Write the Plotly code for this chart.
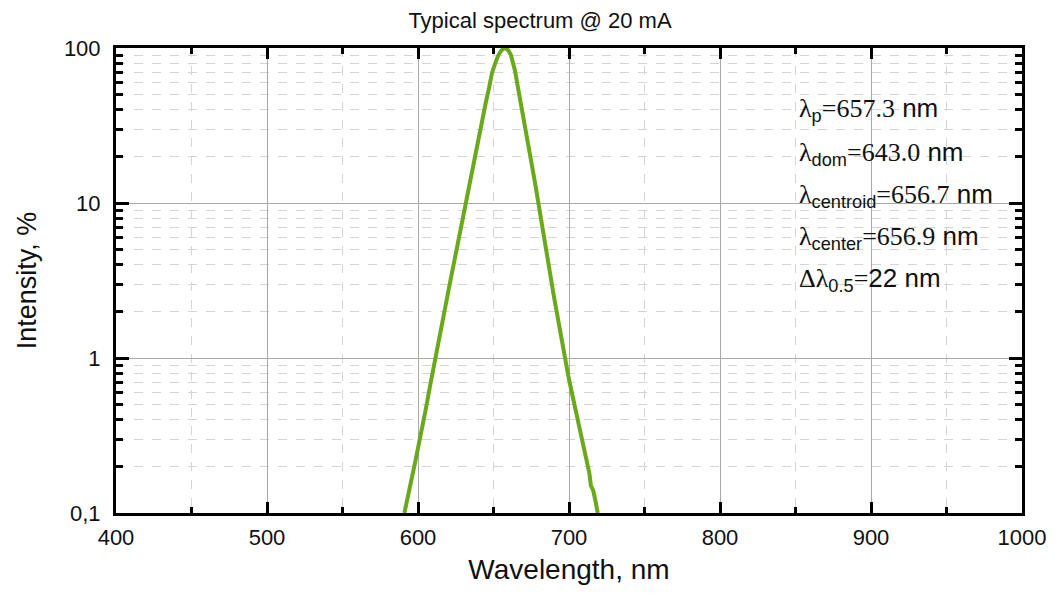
import plotly.graph_objects as go

# Spectrum (wavelength nm, relative intensity %)
wavelength = [591.0, 592.5, 594.0, 596.0, 598.0, 600.0, 603.0, 605.0, 608.0, 611.4,
              614.0, 616.0, 619.0, 621.0, 624.0, 626.0, 629.0, 631.5, 634.0, 636.0,
              638.5, 641.0, 643.0, 645.0, 647.0, 649.0, 651.0, 653.0, 655.0, 656.5,
              657.3, 658.5, 660.0, 661.5, 663.0, 664.3, 666.0, 667.6, 669.5, 671.6,
              673.5, 675.0, 677.5, 679.6, 682.0, 685.0, 687.5, 690.0, 693.5, 697.0,
              699.5, 702.0, 704.5, 707.0, 709.5, 712.0, 713.5, 714.5, 716.0, 717.5, 719.0]
intensity = [0.10, 0.12, 0.14, 0.17, 0.21, 0.26, 0.36, 0.46, 0.66, 1.00,
             1.35, 1.70, 2.40, 3.00, 4.20, 5.30, 7.50, 10.0, 13.0, 16.5,
             22.0, 29.0, 36.0, 45.0, 55.0, 69.0, 79.0, 89.0, 96.0, 99.5,
             100.0, 99.0, 96.0, 90.0, 80.0, 71.0, 57.0, 46.0, 36.0, 29.0,
             22.5, 18.5, 13.5, 10.0, 7.4, 4.9, 3.5, 2.5, 1.6, 1.0,
             0.77, 0.59, 0.45, 0.35, 0.26, 0.20, 0.18, 0.15, 0.14, 0.12, 0.10]

x_ticks = [400, 500, 600, 700, 800, 900, 1000]
y_tickvals = [0.1, 1, 10, 100]
y_ticktext = ["0,1", "1", "10", "100"]
y_minor = [0.2, 0.3, 0.4, 0.5, 0.6, 0.7, 0.8, 0.9,
           2, 3, 4, 5, 6, 7, 8, 9,
           20, 30, 40, 50, 60, 70, 80, 90]

SANS = "Liberation Sans, Arial, sans-serif"
SERIF = "Liberation Serif, Times New Roman, serif"


def sans(s):
    return '<span style="font-family:' + SANS + '">' + s + '</span>'


# (symbol, subscript, serif value part, sans value part)
info_parts = [
    ("λ", "p", "=657.3", " nm"),
    ("λ", "dom", "=643.0", " nm"),
    ("λ", "centroid", "=656.7", " nm"),
    ("λ", "center", "=656.9", " nm"),
    ("Δλ", "0.5", "=", "22 nm"),
]
info_y_px = [110, 153, 195, 237, 279]

# page body has an 8px margin: compensate so the plot lands where the reference has it
OFF = 8
W, H = 1058 - OFF, 593 - OFF
L, R, T, B = 108, 25, 40, 80
pw = W - L - R
ph = H - T - B
x0_px = L + OFF          # plot left edge in screen pixels
y1_px = H - B + OFF      # plot bottom edge in screen pixels

fig = go.Figure()
fig.add_trace(go.Scatter(x=wavelength, y=intensity, mode="lines",
                         line=dict(color="#6aa91c", width=4), showlegend=False))

for (sym, sub, val, unit), ypx in zip(info_parts, info_y_px):
    txt = sym + "<sub>" + sans(sub) + "</sub>" + val + sans(unit)
    fig.add_annotation(text=txt, xref="paper", yref="paper",
                       x=(805 - x0_px) / pw, y=(y1_px - ypx) / ph,
                       xanchor="left", yanchor="middle", showarrow=False,
                       font=dict(family=SERIF, size=26, color="#111"))

fig.update_layout(
    width=W, height=H,
    margin=dict(l=L, r=R, t=T, b=B),
    paper_bgcolor="white", plot_bgcolor="white",
    font=dict(family=SANS, color="#111"),
    title=dict(text="Typical spectrum @ 20 mA", x=(540 - OFF) / W, xref="container",
               xanchor="center", y=1 - (20 - OFF) / H, yref="container",
               yanchor="middle", font=dict(size=22)),
)

fig.update_xaxes(
    range=[400, 1000], tickvals=x_ticks, ticks="inside", ticklen=11, tickwidth=3,
    tickcolor="black", tickfont=dict(size=22), ticklabelstandoff=3,
    showline=True, linewidth=3,
    linecolor="black", mirror="ticks", showgrid=True, gridcolor="#a8a8a8",
    gridwidth=1, zeroline=False,
    minor=dict(dtick=50, ticks="inside", ticklen=6, tickwidth=3, tickcolor="black",
               showgrid=True, gridcolor="#d4d4d4", griddash="dash", gridwidth=1),
    title=dict(text="Wavelength, nm", font=dict(size=28), standoff=10),
)
fig.update_yaxes(
    type="log", range=[-1, 2], tickvals=y_tickvals, ticktext=y_ticktext,
    ticks="inside", ticklen=13, tickwidth=3, tickcolor="black",
    tickfont=dict(size=22), ticklabelstandoff=8,
    showline=True, linewidth=3, linecolor="black",
    mirror="ticks", showgrid=True, gridcolor="#a8a8a8", gridwidth=1, zeroline=False,
    minor=dict(tickvals=y_minor, ticks="inside", ticklen=7, tickwidth=3,
               tickcolor="black", showgrid=True, gridcolor="#d4d4d4",
               griddash="dash", gridwidth=1),
    title=dict(text="Intensity, %", font=dict(size=27), standoff=20),
)

fig.write_html("out.html")
